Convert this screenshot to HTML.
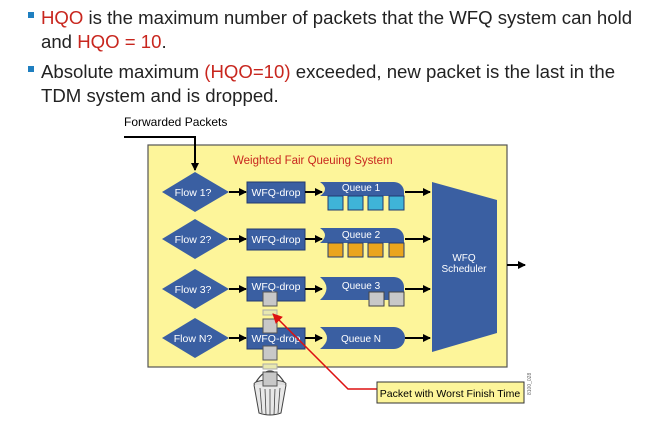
<!DOCTYPE html>
<html><head><style>
body{margin:0;background:#fff;width:655px;height:422px;overflow:hidden;font-family:"Liberation Sans",sans-serif}
</style></head><body>
<svg width="655" height="422" xmlns="http://www.w3.org/2000/svg" font-family="Liberation Sans, sans-serif">
<defs>
<marker id="a" markerWidth="8" markerHeight="8" refX="7" refY="4" orient="auto" markerUnits="userSpaceOnUse"><path d="M0,0 L8,4 L0,8z" fill="#000"/></marker>
<marker id="r" markerWidth="10" markerHeight="10" refX="9" refY="5" orient="auto" markerUnits="userSpaceOnUse"><path d="M0,0 L10,5 L0,10z" fill="#d11"/></marker>
</defs>
<rect x="28" y="12" width="6" height="6" fill="#1f7fc0"/>
<text x="41" y="24" font-size="18.6" fill="#222"><tspan fill="#c8261e">HQO</tspan> is the maximum number of packets that the WFQ system can hold</text>
<text x="41" y="48" font-size="18.6" fill="#222">and <tspan fill="#c8261e">HQO = 10</tspan>.</text>
<rect x="28" y="66" width="6" height="6" fill="#1f7fc0"/>
<text x="41" y="78" font-size="18.6" fill="#222">Absolute maximum <tspan fill="#c8261e">(HQO=10)</tspan> exceeded, new packet is the last in the</text>
<text x="41" y="102" font-size="18.6" fill="#222">TDM system and is dropped.</text>
<text x="124" y="126" font-size="12" fill="#000">Forwarded Packets</text>
<rect x="148" y="145" width="359" height="222" fill="#fdf59a" stroke="#555" stroke-width="1.2"/>
<polyline points="124,137 195,137 195,170" fill="none" stroke="#000" stroke-width="2" marker-end="url(#a)"/>
<text x="233" y="164" font-size="11.5" fill="#c8261e">Weighted Fair Queuing System</text>
<polygon points="432,182 497,200 497,333 432,352" fill="#3a5fa2"/>
<text x="464" y="261" font-size="10" fill="#fff" text-anchor="middle">WFQ</text>
<text x="464" y="272" font-size="10" fill="#fff" text-anchor="middle">Scheduler</text>
<line x1="507" y1="265" x2="525" y2="265" stroke="#000" stroke-width="2" marker-end="url(#a)"/>
<g>
<polygon points="162,192 195,172 229,192 195,212" fill="#3a5fa2"/><text x="193" y="196" font-size="10.5" fill="#fff" text-anchor="middle">Flow 1?</text>
<line x1="229" y1="192" x2="246" y2="192" stroke="#000" stroke-width="2" marker-end="url(#a)"/>
<rect x="247" y="182" width="58" height="21" fill="#3a5fa2" stroke="#223a70"/><text x="276" y="196" font-size="10.5" fill="#fff" text-anchor="middle">WFQ-drop</text>
<line x1="305" y1="192" x2="322" y2="192" stroke="#000" stroke-width="2" marker-end="url(#a)"/>
<path d="M320,182 H394 A10,10 0 0 1 404,192 V196 H320 Q330,189 320,182z" fill="#3a5fa2"/><text x="361" y="191" font-size="10" fill="#fff" text-anchor="middle">Queue 1</text>
<g fill="#3fb4d8" stroke="#223a70"><rect x="328" y="196" width="15" height="14"/><rect x="348" y="196" width="15" height="14"/><rect x="368" y="196" width="15" height="14"/><rect x="389" y="196" width="15" height="14"/></g>
<line x1="405" y1="192" x2="430" y2="192" stroke="#000" stroke-width="2" marker-end="url(#a)"/>
<polygon points="162,239 195,219 229,239 195,259" fill="#3a5fa2"/><text x="193" y="243" font-size="10.5" fill="#fff" text-anchor="middle">Flow 2?</text>
<line x1="229" y1="239" x2="246" y2="239" stroke="#000" stroke-width="2" marker-end="url(#a)"/>
<rect x="247" y="229" width="58" height="21" fill="#3a5fa2" stroke="#223a70"/><text x="276" y="243" font-size="10.5" fill="#fff" text-anchor="middle">WFQ-drop</text>
<line x1="305" y1="239" x2="322" y2="239" stroke="#000" stroke-width="2" marker-end="url(#a)"/>
<path d="M320,228 H394 A10,10 0 0 1 404,238 V243 H320 Q330,235 320,228z" fill="#3a5fa2"/><text x="361" y="238" font-size="10" fill="#fff" text-anchor="middle">Queue 2</text>
<g fill="#eaa51e" stroke="#223a70"><rect x="328" y="243" width="15" height="14"/><rect x="348" y="243" width="15" height="14"/><rect x="368" y="243" width="15" height="14"/><rect x="389" y="243" width="15" height="14"/></g>
<line x1="405" y1="239" x2="430" y2="239" stroke="#000" stroke-width="2" marker-end="url(#a)"/>
<polygon points="162,289 195,269 229,289 195,309" fill="#3a5fa2"/><text x="193" y="293" font-size="10.5" fill="#fff" text-anchor="middle">Flow 3?</text>
<line x1="229" y1="289" x2="246" y2="289" stroke="#000" stroke-width="2" marker-end="url(#a)"/>
<rect x="247" y="277" width="58" height="24" fill="#3a5fa2" stroke="#223a70"/><text x="276" y="290" font-size="10.5" fill="#fff" text-anchor="middle">WFQ-drop</text>
<line x1="305" y1="289" x2="322" y2="289" stroke="#000" stroke-width="2" marker-end="url(#a)"/>
<path d="M320,277 H394 A10,10 0 0 1 404,287 V300 H320 Q333,288 320,277z" fill="#3a5fa2"/><text x="361" y="289" font-size="10" fill="#fff" text-anchor="middle">Queue 3</text>
<g fill="#c8c8c8" stroke="#444"><rect x="369" y="292" width="15" height="14"/><rect x="389" y="292" width="15" height="14"/></g>
<line x1="405" y1="289" x2="430" y2="289" stroke="#000" stroke-width="2" marker-end="url(#a)"/>
<polygon points="162,338 195,318 229,338 195,358" fill="#3a5fa2"/><text x="193" y="342" font-size="10.5" fill="#fff" text-anchor="middle">Flow N?</text>
<line x1="229" y1="338" x2="246" y2="338" stroke="#000" stroke-width="2" marker-end="url(#a)"/>
<rect x="247" y="328" width="58" height="21" fill="#3a5fa2" stroke="#223a70"/><text x="276" y="342" font-size="10.5" fill="#fff" text-anchor="middle">WFQ-drop</text>
<line x1="305" y1="338" x2="322" y2="338" stroke="#000" stroke-width="2" marker-end="url(#a)"/>
<path d="M320,327 H394 A11,11 0 0 1 394,349 H320 Q334,338 320,327z" fill="#3a5fa2"/><text x="361" y="342" font-size="10" fill="#fff" text-anchor="middle">Queue N</text>
<line x1="405" y1="338" x2="430" y2="338" stroke="#000" stroke-width="2" marker-end="url(#a)"/>
</g>
<!-- bucket -->
<path d="M256,382 Q270,360 284,382" fill="none" stroke="#444" stroke-width="1.2"/>
<ellipse cx="270" cy="384" rx="16" ry="4" fill="#ddd" stroke="#444"/>
<path d="M254,385 L259,413 Q270,417 281,413 L286,385" fill="#e8e8e8" stroke="#444"/>
<g stroke="#444" stroke-width="0.8"><line x1="260" y1="388" x2="262" y2="413"/><line x1="265" y1="389" x2="266" y2="415"/><line x1="270" y1="389" x2="270" y2="415"/><line x1="275" y1="389" x2="274" y2="415"/><line x1="280" y1="388" x2="278" y2="413"/></g>
<!-- dropping packets -->
<g fill="#c8c8c8" stroke="#555">
<rect x="263" y="292" width="14" height="14"/>
<rect x="263" y="310" width="14" height="5" fill="#e8e8b0" stroke="#aaa"/>
<rect x="263" y="319" width="14" height="14"/>
<rect x="263" y="346" width="14" height="14"/>
<rect x="263" y="364" width="14" height="5" fill="#e8e8b0" stroke="#aaa"/>
<rect x="263" y="372" width="14" height="14"/>
</g>
<!-- callout -->
<polyline points="377,389 348,389 273,314" fill="none" stroke="#d11" stroke-width="1.5" marker-end="url(#r)"/>
<rect x="377" y="382" width="147" height="21" fill="#fdf59a" stroke="#333"/>
<text x="450" y="397" font-size="10.5" fill="#000" text-anchor="middle">Packet with Worst Finish Time</text>
<text x="531" y="395" font-size="5" fill="#666" transform="rotate(-90 531 395)">8100_028</text>
</svg>
</body></html>
